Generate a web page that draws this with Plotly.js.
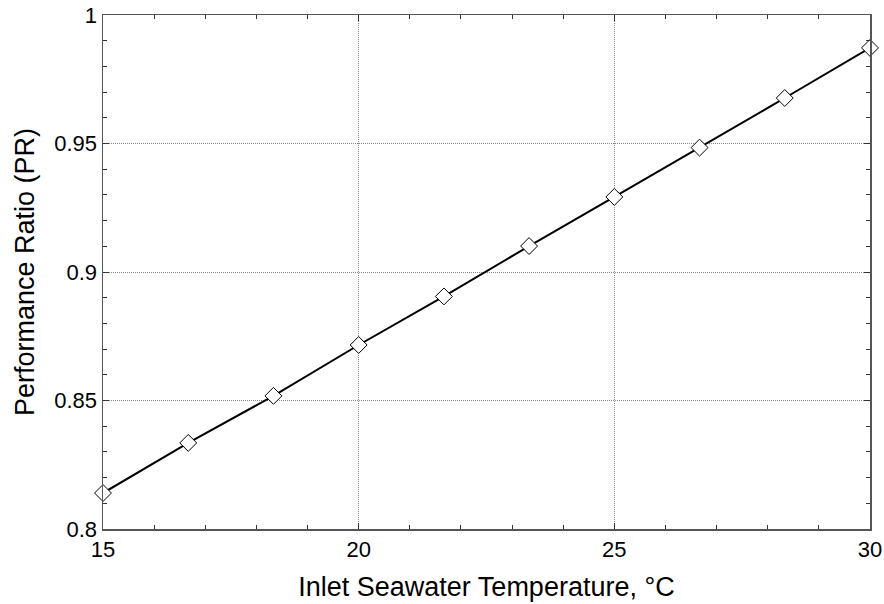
<!DOCTYPE html>
<html><head><meta charset="utf-8">
<script src="https://cdn.plot.ly/plotly-3.0.1.min.js"></script>
<style>html,body{margin:0;padding:0;background:#fff;}#chart{width:884px;height:604px;}</style>
</head><body><div id="chart"></div>
<script>
const temperature = [15, 16.667, 18.333, 20, 21.667, 23.333, 25, 26.667, 28.333, 30];
const performanceRatio = [0.814, 0.8335, 0.8518, 0.8716, 0.8905, 0.9101, 0.9292, 0.9484, 0.9677, 0.9872];
const xTicks = [15, 20, 25, 30];
const yTicks = [0.8, 0.85, 0.9, 0.95, 1];
const yTickText = ['0.8', '0.85', '0.9', '0.95', '1'];

const font = {family: 'Liberation Sans, Arial, sans-serif', color: '#000'};
const axisCommon = {
  showline: true, linecolor: '#555', linewidth: 1.5, mirror: 'ticks',
  ticks: 'inside', ticklen: 6, tickcolor: '#333', tickwidth: 1,
  showgrid: true, gridcolor: '#888', griddash: '1px,1px', gridwidth: 1,
  zeroline: false, tickfont: {...font, size: 22},
};
const layout = {
  width: 884, height: 604,
  margin: {l: 103, r: 14, t: 15, b: 75},
  paper_bgcolor: '#fff', plot_bgcolor: '#fff',
  showlegend: false,
  xaxis: {...axisCommon, range: [15, 30], tickvals: xTicks,
    minor: {dtick: 1, ticks: 'inside', ticklen: 4, tickcolor: '#333', showgrid: false},
    title: {text: 'Inlet Seawater Temperature, °C', font: {...font, size: 27}, standoff: 16}},
  yaxis: {...axisCommon, range: [0.8, 1], tickvals: yTicks, ticktext: yTickText,
    minor: {dtick: 0.01, ticks: 'inside', ticklen: 4, tickcolor: '#333', showgrid: false},
    title: {text: 'Performance Ratio (PR)', font: {...font, size: 27}, standoff: 12}},
};
Plotly.newPlot('chart', [{
  x: temperature, y: performanceRatio, type: 'scatter', mode: 'lines+markers',
  line: {color: '#000', width: 2},
  marker: {symbol: 'diamond', size: 13, color: '#fff', line: {color: '#000', width: 1}},
  cliponaxis: false,
}], layout, {displayModeBar: false, staticPlot: true});
</script></body></html>
